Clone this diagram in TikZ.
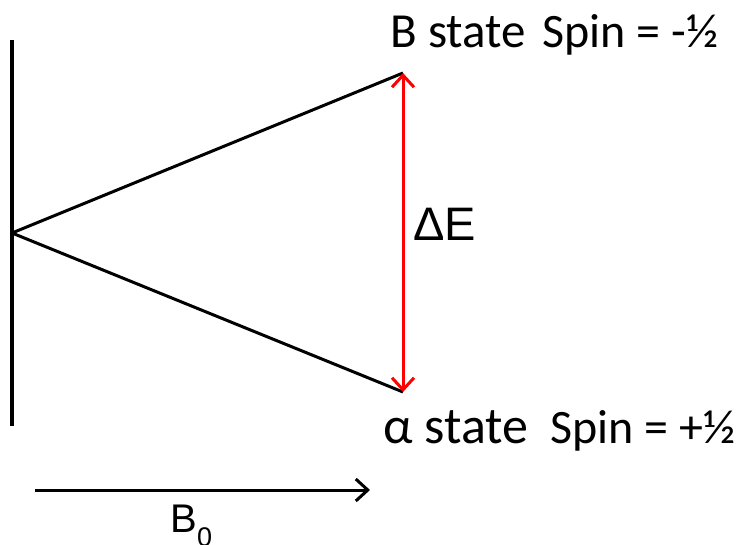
\documentclass[tikz,border=0pt]{standalone}
\usepackage{fontspec}
\setmainfont{Carlito}
\newfontfamily\arialfont{Liberation Sans}
\usetikzlibrary{arrows.meta}

\newcommand{\fsz}[1]{\fontsize{#1}{#1}\selectfont}

\begin{document}
\begin{tikzpicture}[x=1pt, y=-1pt, line width=3pt,
  lbl/.style={inner sep=0pt, anchor=base west},
  gap/.style={{Straight Barb[length=12pt,width=22pt]}-{Straight Barb[length=12pt,width=22pt]}},
  field/.style={-{Straight Barb[length=12pt,width=22pt]}}]
\useasboundingbox (0,0) rectangle (739,544);
% energy levels
\coordinate (top) at (12,40);
\coordinate (bot) at (12,426);
\coordinate (apex) at (12,233);
\coordinate (beta) at (403,73);
\coordinate (alpha) at (403,392);
\draw[line width=4pt] (top) -- (bot);
\draw (apex) -- (beta);
\draw (apex) -- (alpha);
\draw[red, gap] (beta) -- (alpha);
\node[lbl, font=\arialfont\fsz{47}] (dE) at (412,240) {ΔE};
% labels
\node[lbl, font=\fsz{49}] (bstate) at (389,47) {B state};
\node[lbl, font=\fsz{48}] (bspin) at (541,47) {Spin = -½};
\node[lbl, font=\fsz{52}] (astate) at (382,443) {α state};
\node[lbl, font=\fsz{48}] (aspin) at (549,443) {Spin = +½};
% field
\coordinate (fs) at (35,490);
\coordinate (fe) at (370,490);
\draw[field] (fs) -- (fe);
\node[lbl, font=\arialfont\fsz{40}] (B0) at (169,532) {B\raisebox{-14pt}{\fsz{27}0}};
\end{tikzpicture}
\end{document}
